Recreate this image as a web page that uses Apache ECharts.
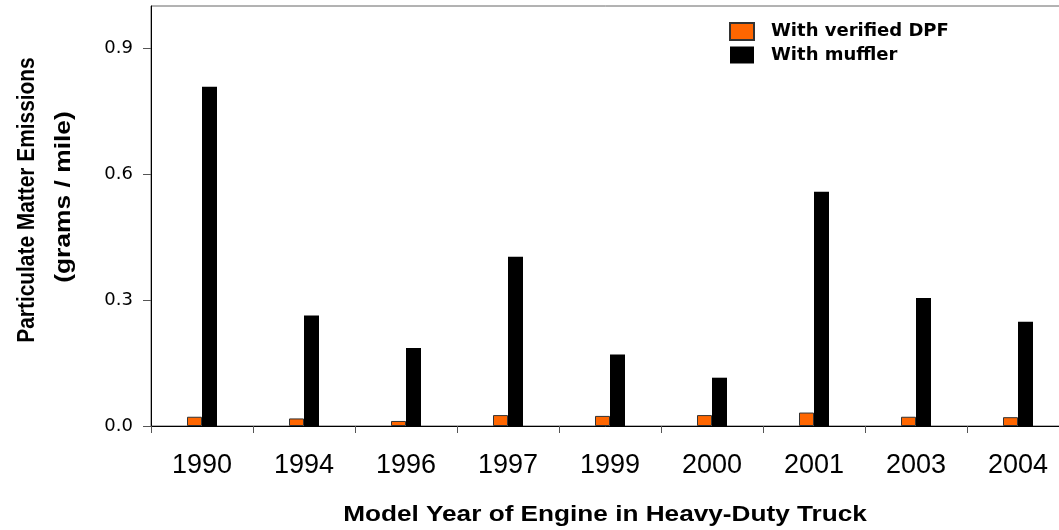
<!DOCTYPE html>
<html>
<head>
<meta charset="utf-8">
<script src="https://cdn.jsdelivr.net/npm/echarts@6/dist/echarts.min.js"></script>
<style>
html,body{margin:0;padding:0;background:#fff;}
#chart{width:1059px;height:530px;}
</style>
</head>
<body>
<div id="chart"></div>
<script>
const years = ['1990','1994','1996','1997','1999','2000','2001','2003','2004'];
const dpfValues = [0.022, 0.018, 0.012, 0.026, 0.024, 0.026, 0.032, 0.022, 0.021];
const mufflerValues = [0.808, 0.263, 0.186, 0.403, 0.170, 0.115, 0.558, 0.305, 0.248];
const yTicks = [0, 0.3, 0.6, 0.9];
const seriesNames = ['With verified DPF', 'With muffler'];
const yTitle1 = 'Particulate Matter Emissions';
const yTitle2 = '(grams / mile)';
const xTitle = 'Model Year of Engine in Heavy-Duty Truck';

const chart = echarts.init(document.getElementById('chart'), null, {renderer:'canvas'});
chart.setOption({
  animation: false,
  backgroundColor: '#fff',
  grid: {left: 151, top: 6, width: 918, height: 420, outerBoundsMode: 'none', containLabel: false,
         show: true, borderColor: '#666', borderWidth: 1, backgroundColor: 'transparent'},
  legend: {
    orient: 'vertical', left: 729, top: 22, padding: 0,
    itemWidth: 24, itemHeight: 17, itemGap: 5, icon: 'rect',
    data: seriesNames,
    textStyle: {fontFamily: 'DejaVu Sans', fontWeight: 'bold', fontSize: 18, color: '#000', padding: [0,0,0,12]}
  },
  xAxis: {
    type: 'category', data: years,
    axisLine: {show: true, lineStyle: {color: '#000', width: 1}},
    axisTick: {show: true, length: 7, lineStyle: {color: '#555'}},
    axisLabel: {fontFamily: 'Liberation Sans', fontSize: 27, color: '#000', margin: 26},
    splitLine: {show: false}
  },
  yAxis: {
    type: 'value', min: 0, max: 1.0, interval: 0.3,
    axisLine: {show: true, lineStyle: {color: '#000', width: 1}},
    axisTick: {show: true, length: 8, lineStyle: {color: '#555'}, customValues: yTicks},
    axisLabel: {fontFamily: 'DejaVu Sans', fontSize: 18, color: '#000', margin: 18, customValues: yTicks,
      formatter: v => v.toFixed(1)},
    splitLine: {show: false}
  },
  series: [
    {name: seriesNames[0], type: 'bar', data: dpfValues, barWidth: 15, barGap: '0%',
     itemStyle: {color: '#FF6600', borderColor: '#333', borderWidth: 1}},
    {name: seriesNames[1], type: 'bar', data: mufflerValues, barWidth: 15, barGap: '0%',
     itemStyle: {color: '#000'}}
  ],
  graphic: [
    {type: 'text', x: 27, y: 200, rotation: Math.PI/2, scaleX: 0.87,
     style: {text: yTitle1, font: 'bold 24px "Liberation Sans"', fill: '#000', textAlign: 'center', textVerticalAlign: 'middle'}},
    {type: 'text', x: 64, y: 197, rotation: Math.PI/2, scaleX: 1.2,
     style: {text: yTitle2, font: 'bold 22px "Liberation Sans"', fill: '#000', textAlign: 'center', textVerticalAlign: 'middle'}},
    {type: 'text', x: 605, y: 515, scaleX: 1.19,
     style: {text: xTitle, font: 'bold 22px "Liberation Sans"', fill: '#000', textAlign: 'center', textVerticalAlign: 'middle'}}
  ]
});
</script>
</body>
</html>
